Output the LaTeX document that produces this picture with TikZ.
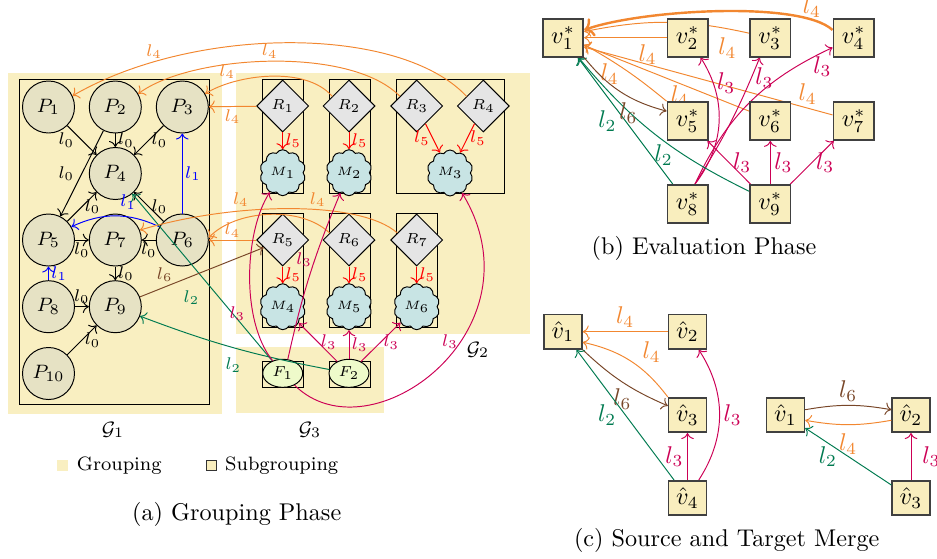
\documentclass[tikz,border=0pt]{standalone}
\usepackage{amsmath}
\usetikzlibrary{arrows.meta,positioning,shapes.geometric,shapes.symbols}

\definecolor{grpbg}{RGB}{249,239,193}
\definecolor{pfill}{RGB}{230,226,196}
\definecolor{rfill}{RGB}{229,229,229}
\definecolor{mfill}{RGB}{200,228,228}
\definecolor{ffill}{RGB}{238,250,202}
\definecolor{vfill}{RGB}{249,238,190}
\definecolor{lorange}{RGB}{242,135,48}
\definecolor{lcrimson}{RGB}{204,0,85}
\definecolor{lgreen}{RGB}{0,122,80}
\definecolor{lbrown}{RGB}{120,70,40}

\pgfdeclarelayer{bg}
\pgfdeclarelayer{edgelayer}
\pgfsetlayers{bg,edgelayer,main}

\tikzset{
  pnode/.style={circle,draw,fill=pfill,minimum size=21.5pt,inner sep=0pt,font=\footnotesize},
  rnode/.style={diamond,draw,fill=rfill,minimum width=21.5pt,minimum height=21.5pt,inner sep=0pt,font=\fontsize{6}{7}\selectfont},
  mnode/.style={cloud,cloud puffs=10,cloud puff arc=120,aspect=1,draw,fill=mfill,minimum width=19pt,minimum height=19pt,inner sep=0pt,font=\tiny},
  fnode/.style={ellipse,draw,fill=ffill,minimum width=16.5pt,minimum height=11.6pt,inner sep=0pt,font=\fontsize{6}{7}\selectfont},
  vnode/.style={rectangle,draw=black!75,line width=0.7pt,fill=vfill,minimum width=16.8pt,minimum height=15.7pt,inner sep=0pt},
  hnode/.style={vnode,minimum width=15.6pt,minimum height=14.2pt},
  sl/.style={font=\scriptsize,inner sep=1pt},
  bl/.style={font=\normalsize,inner sep=1.5pt},
  l0/.style={->,black},
  l1/.style={->,blue},
  l2/.style={->,lgreen},
  l3/.style={->,lcrimson},
  l4/.style={->,lorange},
  l5/.style={->,red},
  l6/.style={->,lbrown},
}

\begin{document}
\begin{tikzpicture}[x=0.4133pt,y=0.4133pt]

		\useasboundingbox (0,0) rectangle (937,-558);

		% groupings
		\begin{pgfonlayer}{bg}
		\fill[grpbg] (8,-73) rectangle (222,-414);
		\fill[grpbg] (236,-73) rectangle (530,-334);
		\fill[grpbg] (236,-347) rectangle (384,-413);
		\end{pgfonlayer}

		% subgroupings
		\draw (19,-79) rectangle (209,-404);
		\draw (262,-79) rectangle (303,-193);
		\draw (329,-79) rectangle (370,-193);
		\draw (396,-79) rectangle (504,-193);
		\draw (262,-213) rectangle (303,-327);
		\draw (329,-213) rectangle (370,-327);
		\draw (396,-213) rectangle (437,-327);
		\draw (262,-361) rectangle (303,-387);
		\draw (329,-361) rectangle (370,-387);

		\node[pnode] (P1) at (48.5,-107) {$P_1$};
		\node[pnode] (P2) at (115.3,-107) {$P_2$};
		\node[pnode] (P3) at (182.3,-107) {$P_3$};
		\node[pnode] (P4) at (115.3,-173.5) {$P_4$};
		\node[pnode] (P5) at (48.5,-240) {$P_5$};
		\node[pnode] (P7) at (115.3,-240) {$P_7$};
		\node[pnode] (P6) at (182.3,-240) {$P_6$};
		\node[pnode] (P8) at (48.5,-306.7) {$P_8$};
		\node[pnode] (P9) at (115.3,-306.7) {$P_9$};
		\node[pnode] (P10) at (48.5,-373.5) {$P_{10}$};

		\node[rnode] (R1) at (282.7,-106) {$R_1$};
		\node[rnode] (R2) at (349,-106) {$R_2$};
		\node[rnode] (R3) at (416.7,-106) {$R_3$};
		\node[rnode] (R4) at (483.3,-106) {$R_4$};
		\node[rnode] (R5) at (282.7,-240) {$R_5$};
		\node[rnode] (R6) at (349,-240) {$R_6$};
		\node[rnode] (R7) at (416.7,-240) {$R_7$};

		\node[mnode] (M1) at (282.7,-172.7) {$M_1$};
		\node[mnode] (M2) at (349,-172.7) {$M_2$};
		\node[mnode] (M3) at (450,-173) {$M_3$};
		\node[mnode] (M4) at (282.7,-306.7) {$M_4$};
		\node[mnode] (M5) at (349,-306.7) {$M_5$};
		\node[mnode] (M6) at (416.7,-306.7) {$M_6$};

		\node[fnode] (F1) at (282.7,-373.3) {$F_1$};
		\node[fnode] (F2) at (349,-373.3) {$F_2$};

		\node[font=\footnotesize] (G1) at (113,-430) {$\mathcal{G}_1$};
		\node[font=\footnotesize] (G2) at (478,-350) {$\mathcal{G}_2$};
		\node[font=\footnotesize] (G3) at (310,-430) {$\mathcal{G}_3$};

		% l_0
		\draw[l0] (P1) -- node[sl,left=2pt] {$l_0$} (P4);
		\draw[l0] (P2) -- node[sl,right] {$l_0$} (P4);
		\draw[l0] (P3) -- node[sl,right] {$l_0$} (P4);
		\draw[l0] (P2) -- node[sl,left=2pt] {$l_0$} (P5);
		\draw[l0] (P5) -- node[sl,right] {$l_0$} (P4);
		\draw[l0] (P6) -- node[sl,right] {$l_0$} (P4);
		\draw[l0] (P5) -- node[sl,below] {$l_0$} (P7);
		\draw[l0] (P6) -- node[sl,below] {$l_0$} (P7);
		\draw[l0] (P7) -- node[sl,right] {$l_0$} (P9);
		\draw[l0] (P8) -- node[sl,above] {$l_0$} (P9);
		\draw[l0] (P10) -- node[sl,right] {$l_0$} (P9);

		% l_1
		\draw[l1] (P6) -- node[sl,right] {$l_1$} (P3);
		\draw[l1] (P8) -- node[sl,right] {$l_1$} (P5);
		\draw[l1] (P6.150) to[bend right=25] node[sl,pos=0.35,above=2pt] {$l_1$} (P5.30);

		% l_2
		\draw[l2] (F1) -- node[sl,pos=0.38,left=7pt] {$l_2$} (P4);
		\draw[l2] (F2) to[bend left=5] node[sl,pos=0.5,below=3pt] {$l_2$} (P9);

		% l_6
		\draw[l6] (P9) -- node[sl,pos=0.2,above=1pt] {$l_6$} (R5);

		% l_4
		\draw[l4] (R1) -- node[sl,below] {$l_4$} (P3);
		\draw[l4] (R2.150) .. controls (305,-65) and (235,-75) .. node[sl,pos=0.8,above=1pt] {$l_4$} (P3.30);
		\draw[l4] (R3.150) .. controls (350,-45) and (190,-55) .. node[sl,pos=0.5,above] {$l_4$} (P2.30);
		\draw[l4] (R4.150) .. controls (400,-25) and (195,-25) .. node[sl,pos=0.8,above] {$l_4$} (P1.25);
		\draw[l4] (R5) -- node[sl,above] {$l_4$} (P6);
		\draw[l4] (R6.160) .. controls (300,-205) and (235,-210) .. node[sl,pos=0.7,above=4pt] {$l_4$} (P6.5);
		\draw[l4] (R7.160) .. controls (360,-200) and (234,-202) .. node[sl,pos=0.4,above] {$l_4$} (P7.22);

		% l_5
		\draw[l5] (R1) -- node[sl,right] {$l_5$} (M1);
		\draw[l5] (R2) -- node[sl,right] {$l_5$} (M2);
		\draw[l5] (R3) -- node[sl,left] {$l_5$} (M3);
		\draw[l5] (R4) -- node[sl,right] {$l_5$} (M3);
		\draw[l5] (R5) -- node[sl,right] {$l_5$} (M4);
		\draw[l5] (R6) -- node[sl,right] {$l_5$} (M5);
		\draw[l5] (R7) -- node[sl,right] {$l_5$} (M6);

		% l_3
		\draw[l3] (F1) .. controls (240,-320) and (245,-230) .. node[sl,pos=0.3,left=2pt] {$l_3$} (M1);
		\draw[l3] (F1.70) to[bend left=5] node[sl,pos=0.6,left] {$l_3$} (M2);
		\draw[l3] (F2) -- node[sl,right] {$l_3$} (M4);
		\draw[l3] (F2) -- node[sl,right] {$l_3$} (M5);
		\draw[l3] (F2) -- node[sl,right] {$l_3$} (M6);
		\draw[l3] (F1.-45) .. controls (370,-460) and (545,-330) .. node[sl,pos=0.6,left] {$l_3$} (M3);

		% legend
		\node[fill=grpbg,minimum size=4.5pt,inner sep=0pt] (lgA) at (62.5,-465.5) {};
		\node[font=\footnotesize,inner sep=0pt,right=3.3pt of lgA] (lgAt) {Grouping};
		\node[fill=vfill,draw=black!80,minimum size=4.5pt,inner sep=0pt] (lgB) at (211.5,-465.5) {};
		\node[font=\footnotesize,inner sep=0pt,right=3pt of lgB] (lgBt) {Subgrouping};

		\node (capA) at (236.7,-514) {(a) Grouping Phase};

		% evaluation phase
		\node[vnode] (e1) at (563,-37.7) {$v_1^*$};
		\node[vnode] (e2) at (687.7,-37.7) {$v_2^*$};
		\node[vnode] (e3) at (770.3,-37.7) {$v_3^*$};
		\node[vnode] (e4) at (853.7,-37.7) {$v_4^*$};
		\node[vnode] (e5) at (687.7,-121) {$v_5^*$};
		\node[vnode] (e6) at (770.3,-121) {$v_6^*$};
		\node[vnode] (e7) at (853.7,-121) {$v_7^*$};
		\node[vnode] (e8) at (687.7,-204) {$v_8^*$};
		\node[vnode] (e9) at (770.3,-204) {$v_9^*$};

		\begin{pgfonlayer}{edgelayer}
		\draw[l4,line width=1pt] (e4.160) .. controls (800,0) and (640,-10) .. node[bl,pos=0.14,above=-1pt] {$l_4$} (e1.20);
		\draw[l4] (e3.168) to[bend right=12] node[bl,pos=0.12,below=2pt] {$l_4$} (e1.16);
		\draw[l4] (e2) -- node[bl,pos=0.23,below=1pt] {$l_4$} (e1);
		\draw[l4] (e5.north west) to[bend right=5] node[bl,pos=0.72,below] {$l_4$} (e1.-18);
		\draw[l4] (e6.155) -- node[bl,pos=0.42,below=-1pt] {$l_4$} (e1.-20);
		\draw[l4] (e7.164) -- node[bl,pos=0.1,above] {$l_4$} (e1.-24);
		\draw[l3] (e8.70) to[bend right=35] node[bl,pos=0.8,right] {$l_3$} (e2.-57);
		\draw[l3] (e8.70) to[bend right=5] node[bl,pos=0.86,right] {$l_3$} (e3.-118);
		\draw[l3] (e8.70) to[out=65,in=205] node[bl,pos=0.95,below] {$l_3$} (e4.205);
		\draw[l3] (e9) -- node[bl,right] {$l_3$} (e5);
		\draw[l3] (e9) -- node[bl,right] {$l_3$} (e6);
		\draw[l3] (e9) -- node[bl,right] {$l_3$} (e7);
		\draw[l2] (e8) -- node[bl,left=2pt] {$l_2$} (e1);
		\draw[l2] (e9.149) to[bend left=12] node[bl,pos=0.45,below] {$l_2$} (e1.-52);
		\draw[l6] (e1.south east) to[bend right=18] node[bl,pos=0.6,below=1pt] {$l_6$} (e5.155);
		\end{pgfonlayer}

		\node (capB) at (704,-248) {(b) Evaluation Phase};

		% source and target merge
		\node[hnode] (s1) at (563,-331.7) {$\hat{v}_1$};
		\node[hnode] (s2) at (687.5,-331.7) {$\hat{v}_2$};
		\node[hnode] (s3) at (687.5,-415) {$\hat{v}_3$};
		\node[hnode] (s4) at (687.5,-498) {$\hat{v}_4$};

		\draw[l4] (s2) -- node[bl,above] {$l_4$} (s1);
		\draw[l4] (s3.north west) to[bend right=20] node[bl,pos=0.4,above right] {$l_4$} (s1.-28);
		\draw[l6] (s1.south east) to[bend right=10] node[bl,pos=0.5,below=1pt] {$l_6$} (s3.155);
		\draw[l2] (s4) -- node[bl,left=2pt] {$l_2$} (s1);
		\draw[l3] (s4) -- node[bl,left] {$l_3$} (s3);
		\draw[l3] (s4.58) to[bend right=33] node[bl,right] {$l_3$} (s2.-58);

		\node[hnode] (t1) at (785.5,-415) {$\hat{v}_1$};
		\node[hnode] (t2) at (911,-415) {$\hat{v}_2$};
		\node[hnode] (t3) at (911,-498) {$\hat{v}_3$};

		\draw[l6] (t1.15) to[bend left=10] node[bl,above] {$l_6$} (t2.165);
		\draw[l4] (t2.195) to[bend left=10] node[bl,below=2pt] {$l_4$} (t1.-15);
		\draw[l2] (t3) -- node[bl,left=3pt] {$l_2$} (t1);
		\draw[l3] (t3) -- node[bl,right=3pt] {$l_3$} (t2);

		\node (capC) at (726.7,-540) {(c) Source and Target Merge};

\end{tikzpicture}
\end{document}
